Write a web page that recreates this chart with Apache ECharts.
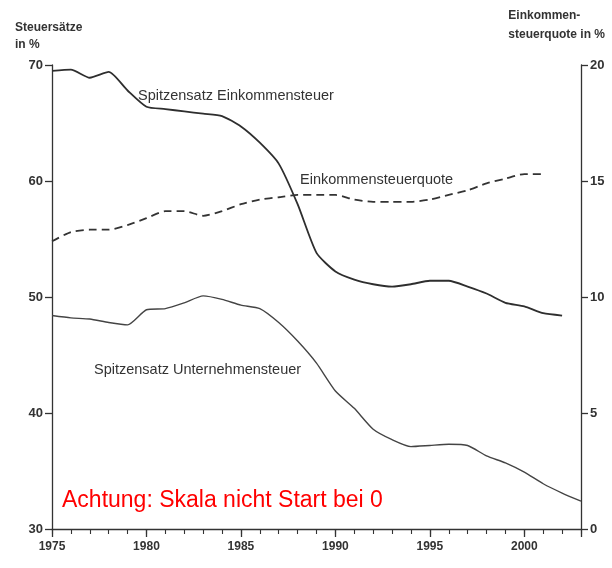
<!DOCTYPE html>
<html>
<head>
<meta charset="utf-8">
<script src="https://cdn.jsdelivr.net/npm/echarts@6/dist/echarts.min.js"></script>
<style>
html,body{margin:0;padding:0;background:#fff;}
#c{width:612px;height:568px;}
</style>
</head>
<body>
<div id="c"></div>
<script>
// Years (x values)
const yearsA = [1975,1976,1977,1978,1979,1980,1981,1982,1983,1984,1985,1986,1987,1988,1989,1990,1991,1992,1993,1994,1995,1996,1997,1998,1999,2000,2001,2002];
// Spitzensatz Einkommensteuer (left axis, %)
const spitzeEinkommen = [69.5,69.6,68.9,69.4,67.8,66.4,66.2,66.0,65.8,65.6,64.7,63.3,61.5,58.0,53.8,52.2,51.5,51.1,50.9,51.1,51.4,51.4,50.9,50.3,49.5,49.2,48.6,48.4];

const yearsB = [1975,1976,1977,1978,1979,1980,1981,1982,1983,1984,1985,1986,1987,1988,1989,1990,1991,1992,1993,1994,1995,1996,1997,1998,1999,2000,2001];
// Einkommensteuerquote (right axis, %)
const einkommensteuerquote = [12.4,12.8,12.9,12.9,13.1,13.4,13.7,13.7,13.5,13.7,14.0,14.2,14.3,14.4,14.4,14.4,14.2,14.1,14.1,14.1,14.2,14.4,14.6,14.9,15.1,15.3,15.3];

const yearsC = [1975,1976,1977,1978,1979,1980,1981,1982,1983,1984,1985,1986,1987,1988,1989,1990,1991,1992,1993,1994,1995,1996,1997,1998,1999,2000,2001,2002,2003];
// Spitzensatz Unternehmensteuer (left axis, %)
const spitzeUnternehmen = [48.4,48.2,48.1,47.8,47.6,48.9,49.0,49.5,50.1,49.8,49.3,49.0,47.8,46.2,44.3,41.9,40.4,38.6,37.7,37.1,37.2,37.3,37.2,36.3,35.7,34.9,33.9,33.1,32.4];

const leftTicks = [30,40,50,60,70];
const rightTicks = [0,5,10,15,20];

const pair = (xs, ys) => xs.map((x, i) => [x, ys[i]]);

const ink = '#333';
const font = 'Liberation Sans';
const chart = echarts.init(document.getElementById('c'), null, {renderer: 'canvas'});

chart.setOption({
  backgroundColor: '#fff',
  animation: false,
  grid: {left: 52, right: 31, top: 65, bottom: 39},
  xAxis: [
    {
      type: 'value', min: 1975, max: 2003, interval: 5, position: 'bottom',
      axisLine: {show: true, lineStyle: {color: ink, width: 1.3}},
      axisTick: {show: true, length: 8, lineStyle: {color: ink, width: 1.3}},
      axisLabel: {show: true, margin: 12, color: ink, fontSize: 12, fontFamily: font, fontWeight: 'bold',
        formatter: v => (v % 5 === 0 ? String(v) : '')},
      splitLine: {show: false}
    },
    {
      type: 'value', min: 1975, max: 2003, interval: 1, position: 'bottom', offset: 0,
      axisLine: {show: false},
      axisTick: {show: true, length: 5, lineStyle: {color: ink, width: 1.1}},
      axisLabel: {show: false},
      splitLine: {show: false}
    }
  ],
  yAxis: [
    {
      type: 'value', min: leftTicks[0], max: leftTicks[leftTicks.length-1], interval: 10, position: 'left',
      axisLine: {show: true, lineStyle: {color: ink, width: 1.3}},
      axisTick: {show: true, length: 7, lineStyle: {color: ink, width: 1.3}},
      axisLabel: {show: true, margin: 9, color: ink, fontSize: 13, fontFamily: font, fontWeight: 'bold'},
      splitLine: {show: false}
    },
    {
      type: 'value', min: rightTicks[0], max: rightTicks[rightTicks.length-1], interval: 5, position: 'right',
      axisLine: {show: true, lineStyle: {color: ink, width: 1.3}},
      axisTick: {show: true, length: 7, lineStyle: {color: ink, width: 1.3}},
      axisLabel: {show: true, margin: 9, color: ink, fontSize: 13, fontFamily: font, fontWeight: 'bold'},
      splitLine: {show: false}
    }
  ],
  series: [
    {
      name: 'Spitzensatz Einkommensteuer', type: 'line', yAxisIndex: 0,
      data: pair(yearsA, spitzeEinkommen), showSymbol: false, smooth: 0.2,
      lineStyle: {color: '#2e2e2e', width: 1.8}
    },
    {
      name: 'Einkommensteuerquote', type: 'line', yAxisIndex: 1,
      data: pair(yearsB, einkommensteuerquote), showSymbol: false, smooth: 0.2,
      lineStyle: {color: '#333', width: 1.8, type: [8, 5]}
    },
    {
      name: 'Spitzensatz Unternehmensteuer', type: 'line', yAxisIndex: 0,
      data: pair(yearsC, spitzeUnternehmen), showSymbol: false, smooth: 0.2,
      lineStyle: {color: '#444', width: 1.4}
    }
  ],
  graphic: [
    {type: 'text', left: 15, top: 19, style: {text: 'Steuersätze\nin %', fill: ink, font: 'bold 12px "Liberation Sans"', lineHeight: 17}},
    {type: 'text', right: 7, top: 6, style: {text: 'Einkommen-\nsteuerquote in %', fill: ink, font: 'bold 12px "Liberation Sans"', lineHeight: 19, align: 'right'}},
    {type: 'text', left: 138, top: 88, style: {text: 'Spitzensatz Einkommensteuer', fill: ink, font: '14.5px "Liberation Sans"'}},
    {type: 'text', left: 300, top: 172, style: {text: 'Einkommensteuerquote', fill: ink, font: '14.5px "Liberation Sans"'}},
    {type: 'text', left: 94, top: 362, style: {text: 'Spitzensatz Unternehmensteuer', fill: ink, font: '14.5px "Liberation Sans"'}},
    {type: 'text', left: 62, top: 489, style: {text: 'Achtung: Skala nicht Start bei 0', fill: '#ff0000', font: '23px "Liberation Sans"'}}
  ]
});
</script>
</body>
</html>
